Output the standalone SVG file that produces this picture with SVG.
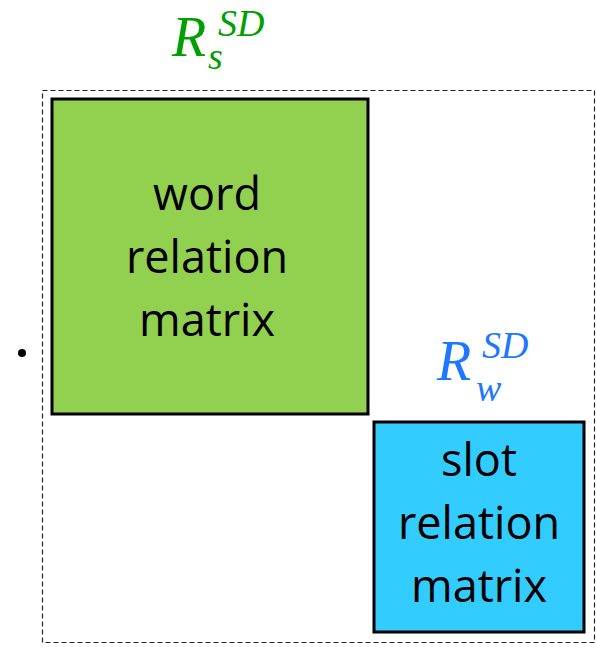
<svg xmlns="http://www.w3.org/2000/svg" width="596" height="649" viewBox="0 0 596 649">
  <style>
    .box { stroke: #000; stroke-width: 3; }
    .lbl { font-family: "Open Sans", "Noto Sans", sans-serif; font-size: 45px; fill: #000; text-anchor: middle; }
    .math { font-family: "Liberation Serif", "DejaVu Serif", serif; font-style: italic; }
  </style>
  <rect width="596" height="649" fill="#fff"/>
  <!-- dashed outer frame of the block matrix -->
  <rect x="42.5" y="90.5" width="552" height="552" fill="none" stroke="#222" stroke-width="1.2" stroke-dasharray="5,3"/>
  <circle cx="22" cy="353" r="4" fill="#000"/>
  <g id="word-matrix">
    <rect class="box" x="52" y="99" width="316" height="315" fill="#92D050"/>
    <text class="lbl" x="207" y="210">word</text>
    <text class="lbl" x="207" y="273">relation</text>
    <text class="lbl" x="207" y="336">matrix</text>
  </g>
  <g id="slot-matrix">
    <rect class="box" x="374" y="422" width="210" height="210" fill="#33CCFF"/>
    <text class="lbl" x="479" y="476">slot</text>
    <text class="lbl" x="479" y="539">relation</text>
    <text class="lbl" x="479" y="602">matrix</text>
  </g>
  <g id="label-s" class="math" fill="#00A000">
    <text x="172" y="56" font-size="56">R</text>
    <text x="218" y="36" font-size="38">SD</text>
    <text x="208" y="69" font-size="38">s</text>
  </g>
  <g id="label-w" class="math" fill="#1E78FF">
    <text x="437" y="380" font-size="56">R</text>
    <text x="482" y="358" font-size="38">SD</text>
    <text x="476" y="401" font-size="38">w</text>
  </g>
  <g id="connectors"/>
</svg>
